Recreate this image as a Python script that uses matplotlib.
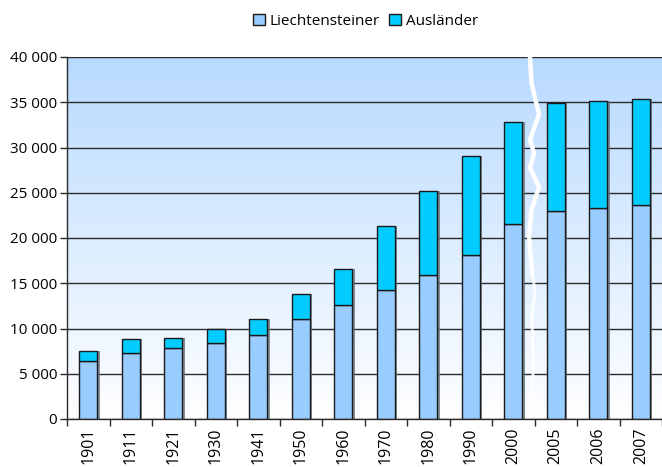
import numpy as np
import matplotlib
matplotlib.use("Agg")
import matplotlib.pyplot as plt
from matplotlib.ticker import FuncFormatter, FixedLocator

years = ["1901", "1911", "1921", "1930", "1941", "1950", "1960",
         "1970", "1980", "1990", "2000", "2005", "2006", "2007"]
liechtensteiner = [6450, 7330, 7890, 8360, 9330, 11050, 12550,
                   14250, 15950, 18100, 21550, 23000, 23350, 23600]
total = [7560, 8790, 8910, 10000, 11100, 13800, 16600,
         21300, 25200, 29050, 32830, 34920, 35150, 35350]
auslaender = [t - l for t, l in zip(total, liechtensteiner)]

plt.rcParams['font.family'] = ['Open Sans', 'DejaVu Sans']

fig = plt.figure(figsize=(6.62, 4.67), dpi=100)
ax = fig.add_axes([67 / 662, 1 - 419 / 467, 595 / 662, 362 / 467])

x = np.arange(len(years))
width = 0.42

# gradient background, light blue at the top fading to white
grad = np.linspace(0, 1, 256).reshape(-1, 1)
top_col = np.array([184, 218, 255]) / 255
bot_col = np.array([255, 255, 255]) / 255
img = bot_col + (top_col - bot_col) * grad[..., None]
ax.imshow(img, extent=[0, 1, 0, 1], transform=ax.transAxes, origin='lower',
          aspect='auto', zorder=0)

# excel style shadow behind the bars
ax.bar(x + 0.06, total, width, color='#66727e', alpha=0.8, zorder=2, linewidth=0)

ax.bar(x, liechtensteiner, width, color='#99ccff', edgecolor='#1a1a1a',
       linewidth=1, zorder=3, label='Liechtensteiner')
ax.bar(x, auslaender, width, bottom=liechtensteiner, color='#00ccff',
       edgecolor='#1a1a1a', linewidth=1, zorder=3, label='Ausländer')

ax.set_xlim(-0.5, len(years) - 0.5)
ax.set_ylim(0, 40000)
ax.set_yticks(np.arange(0, 40001, 5000))
ax.yaxis.set_major_formatter(FuncFormatter(lambda v, p: f"{int(v):,}".replace(",", " ")))
ax.grid(axis='y', color='#2b2b2b', linewidth=1, zorder=1)
ax.set_axisbelow(True)

ax.set_xticks(x)
ax.set_xticklabels(years, rotation=90, fontsize=11.5)
ax.xaxis.set_minor_locator(FixedLocator(np.arange(-0.5, len(years) + 0.5, 1)))
ax.tick_params(axis='x', which='major', length=0, pad=6)
ax.tick_params(axis='x', which='minor', length=5, width=1, color='#2b2b2b')
ax.tick_params(axis='y', length=5, width=1, color='#2b2b2b', labelsize=11, pad=2)

for s in ['top', 'right']:
    ax.spines[s].set_visible(False)
for s in ['left', 'bottom']:
    ax.spines[s].set_color('#2b2b2b')
    ax.spines[s].set_linewidth(1)
    ax.spines[s].set_zorder(4)

# white break line between 2000 and 2005 (axes fractions)
brk_x = [530, 531.5, 535, 539, 530, 534, 530, 539, 531.5, 529, 532, 535, 532, 533, 533]
brk_y = [57, 83, 98, 114, 140, 153, 168, 187, 210, 236, 273, 290, 317, 357, 397]
bx = [(p - 67) / 595 for p in brk_x]
by = [(419 - p) / 362 for p in brk_y]
ax.plot(bx[:11], by[:11], color='white', linewidth=3.2, transform=ax.transAxes,
        zorder=5, solid_capstyle='round', solid_joinstyle='round')
ax.plot(bx[10:], by[10:], color='white', linewidth=2.2, alpha=0.85,
        transform=ax.transAxes, zorder=5, solid_capstyle='round')

leg = fig.legend(loc='upper center', bbox_to_anchor=(0.552, 1.0), ncol=2,
                 frameon=False, fontsize=11, handlelength=0.8, handleheight=0.8,
                 handletextpad=0.3, columnspacing=0.6)

fig.savefig("out.png", dpi=100)
